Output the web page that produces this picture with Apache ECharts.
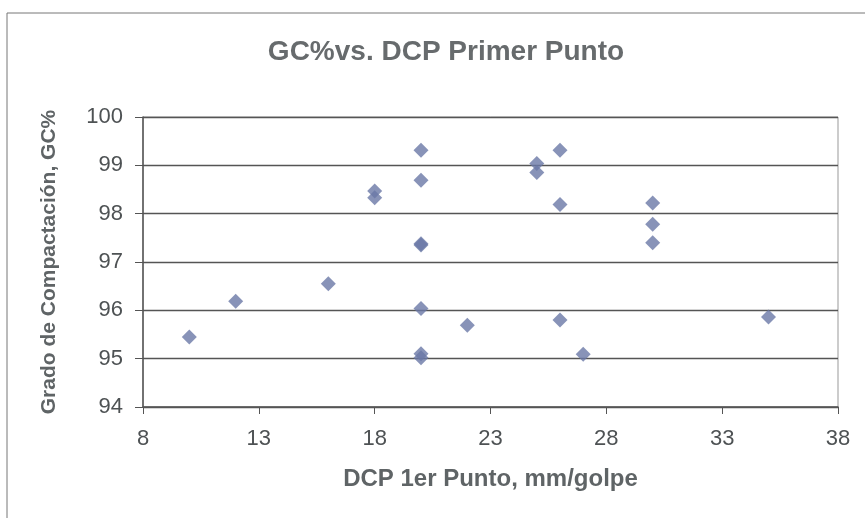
<!DOCTYPE html>
<html><head><meta charset="utf-8">
<script src="https://cdn.jsdelivr.net/npm/echarts@6/dist/echarts.min.js"></script>
<style>html,body{margin:0;padding:0;background:#fff}#c{width:865px;height:518px}</style>
</head><body><div id="c"></div>
<script>
const dcpValues = [10, 12, 16, 18, 18, 20, 20, 20, 20, 20, 20, 20, 22, 25, 25, 26, 26, 26, 27, 30, 30, 30, 35];
const gcValues  = [95.45, 96.19, 96.55, 98.47, 98.33, 99.31, 98.69, 97.35, 97.38, 96.04, 95.10, 95.02, 95.69, 99.04, 98.85, 99.31, 98.19, 95.80, 95.09, 98.22, 97.78, 97.40, 95.86];
const xTicks = [8, 13, 18, 23, 28, 33, 38];
const yTicks = [94, 95, 96, 97, 98, 99, 100];

const points = dcpValues.map((x, i) => [x, gcValues[i]]);
const chart = echarts.init(document.getElementById('c'));
const font = 'Liberation Sans, Arial, sans-serif';
chart.setOption({
  backgroundColor: '#fff',
  animation: false,
  title: {
    text: 'GC%vs. DCP Primer Punto',
    left: 441, top: 33, textAlign: 'center',
    textStyle: {fontFamily: font, fontSize: 28, fontWeight: 'bold', color: '#676b6d'}
  },
  graphic: [
    {type: 'line', shape: {x1: 7, y1: 13, x2: 865, y2: 13}, style: {stroke: '#777', lineWidth: 1}},
    {type: 'line', shape: {x1: 7, y1: 13, x2: 7, y2: 518}, style: {stroke: '#777', lineWidth: 1}}
  ],
  grid: {left: 143, right: 27, top: 117, bottom: 111, show: true, borderColor: '#999', borderWidth: 1},
  xAxis: {
    type: 'value', min: xTicks[0], max: xTicks[xTicks.length - 1], interval: 5,
    name: 'DCP 1er Punto, mm/golpe', nameLocation: 'middle', nameGap: 60,
    nameTextStyle: {fontFamily: font, fontSize: 24, fontWeight: 'bold', color: '#5f6466'},
    axisLine: {onZero: false, lineStyle: {color: '#555', width: 1.5}},
    axisTick: {show: true, length: 7, lineStyle: {color: '#555'}},
    axisLabel: {fontFamily: font, fontSize: 22, color: '#4e5254', margin: 21},
    splitLine: {show: false}
  },
  yAxis: {
    type: 'value', min: yTicks[0], max: yTicks[yTicks.length - 1], interval: 1,
    name: 'Grado de Compactación, GC%', nameLocation: 'middle', nameGap: 83, nameRotate: 90,
    nameTextStyle: {fontFamily: font, fontSize: 21, fontWeight: 'bold', color: '#5f6466'},
    axisLine: {onZero: false, lineStyle: {color: '#555', width: 1.5}},
    axisTick: {show: true, length: 8, lineStyle: {color: '#555'}},
    axisLabel: {fontFamily: font, fontSize: 22, color: '#4e5254', margin: 20},
    splitLine: {show: true, lineStyle: {color: '#555', width: 1.3}}
  },
  series: [{
    type: 'scatter', symbol: 'diamond', symbolSize: 15,
    itemStyle: {color: '#6a78a6'},
    data: points
  }]
});
</script></body></html>
